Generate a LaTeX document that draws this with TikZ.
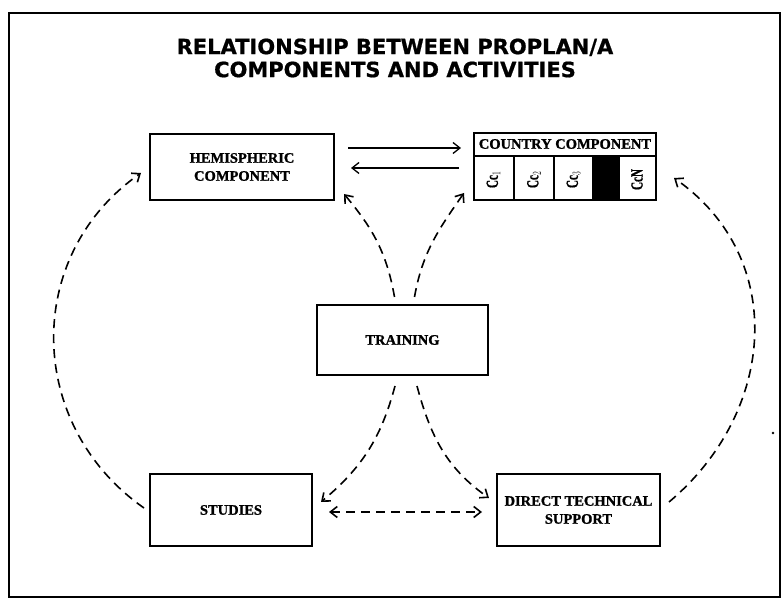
\documentclass[tikz,border=0pt]{standalone}
\usepackage{fontspec}
\setmainfont{Liberation Serif}
\newfontfamily\boxfont{Liberation Serif Bold}[FakeBold=1.2]
\newfontfamily\titlefont{DejaVu Sans Bold}[FakeBold=0.8]
\usetikzlibrary{arrows.meta,calc,positioning}
\tikzset{
    box/.style={draw, line width=2pt, minimum width=#1, minimum height=70pt, inner sep=2pt,
        align=center, font=\boxfont\fontsize{14.5}{18}\selectfont},
    link/.style={line width=1.6pt, dash pattern=on 9pt off 6pt},
    >={Straight Barb[length=7pt,width=11pt]}
}

\begin{document}
\begin{tikzpicture}[x=1pt,y=1pt]
    \useasboundingbox (0,0) rectangle (782,605);
    % Draw frame.
    \draw[line width=2pt] (9,8) rectangle (780,592);

    % Draw title.
    \node[font=\titlefont\fontsize{21}{23}\selectfont, align=center] (title) at (395,547)
        {RELATIONSHIP BETWEEN PROPLAN/A\\COMPONENTS AND ACTIVITIES};

    % Draw boxes.
    \node[box=184pt, minimum height=66pt] (hemi) at (242,438) {HEMISPHERIC\\COMPONENT};
    \node[box=182pt, minimum height=67pt] (country) at (565,438.5) {};
    \node[box=171pt] (training) at (402.5,265) {TRAINING};
    \node[box=162pt, minimum height=72pt] (studies) at (231,95) {STUDIES};
    \node[box=163pt, minimum height=72pt] (support) at (578.5,95) {DIRECT TECHNICAL\\SUPPORT};

    % Draw country cells.
    \draw[line width=2pt] ([yshift=-24pt]country.north west) -- ([yshift=-24pt]country.north east);
    \node[font=\boxfont\fontsize{14.5}{15}\selectfont] (header) at ([yshift=-12pt]country.north) {COUNTRY COMPONENT};
    \fill ($(country.north west)+(120,-24)$) rectangle ($(country.south west)+(146,0)$);
    \foreach \x in {41,81,120,146}
        \draw[line width=2pt] ($(country.north west)+(\x,-24)$) -- ($(country.south west)+(\x,0)$);
    \foreach \x/\t in {20.5/{Cc$_1$}, 61/{Cc$_2$}, 100.5/{Cc$_3$}, 164/{CcN}}
        \node[rotate=90, font=\boxfont\fontsize{17}{17}\selectfont] at ($(country.south west)+(\x,21.5)$)
            {\scalebox{0.65}[1]{\t}};

    % Draw links between components.
    \draw[line width=1.3pt, ->] ([xshift=13pt,yshift=19pt]hemi.east) -- ([xshift=-12pt,yshift=18.5pt]country.west);
    \draw[line width=1.3pt, ->] ([xshift=-14pt,yshift=-1.5pt]country.west) -- ([xshift=16pt,yshift=-1pt]hemi.east);

    % Draw activity links.
    \draw[link, ->] ([xshift=-5pt,yshift=2pt]studies.west) to[out=145, in=-145, looseness=1.1] ([xshift=-8pt,yshift=-6pt]hemi.west);
    \draw[link, ->] ([xshift=8pt,yshift=8pt]support.east) to[out=40, in=-35, looseness=1.1] ([xshift=17pt,yshift=-11.5pt]country.east);
    \draw[link, ->] ([xshift=-8pt,yshift=7pt]training.north) to[out=100, in=-50] ([xshift=9pt,yshift=7pt]hemi.south east);
    \draw[link, ->] ([xshift=12pt,yshift=7pt]training.north) to[out=80, in=-125] ([xshift=-9pt,yshift=8pt]country.south west);
    \draw[link, ->] ([xshift=-7.5pt,yshift=-10pt]training.south) to[out=-105, in=40] ([xshift=8pt,yshift=8pt]studies.east);
    \draw[link, ->] ([xshift=14.5pt,yshift=-10pt]training.south) to[out=-75, in=145] ([xshift=-7pt,yshift=12pt]support.west);
    \draw[link, <->] ([xshift=16pt,yshift=-2pt]studies.east) -- ([xshift=-14pt,yshift=-2pt]support.west);

    % Draw speck.
    \fill (773,172) circle (1.3pt);
\end{tikzpicture}
\end{document}
